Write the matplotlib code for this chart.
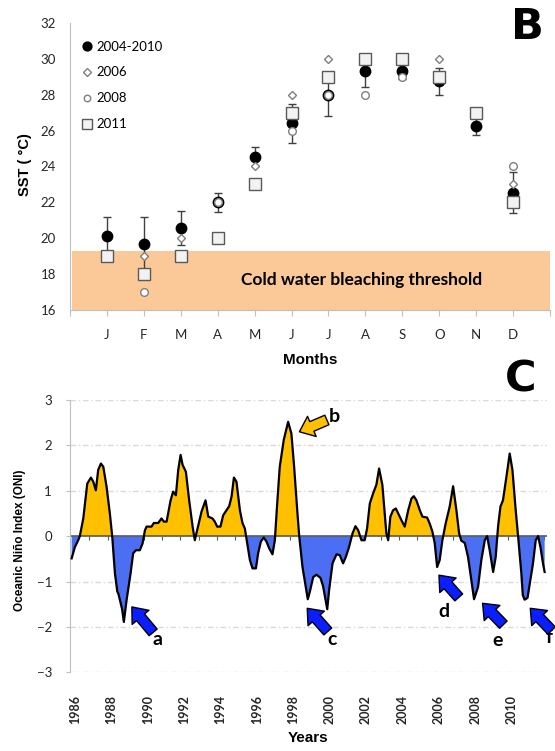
import numpy as np
import matplotlib
matplotlib.use("Agg")
import matplotlib.pyplot as plt
from matplotlib.patches import FancyArrowPatch

nan = np.nan

# panel B: monthly SST
months = ['J', 'F', 'M', 'A', 'M', 'J', 'J', 'A', 'S', 'O', 'N', 'D']
sst_mean = [20.1, 19.7, 20.55, 22.0, 24.55, 26.4, 28.0, 29.3, 29.3, 28.75, 26.25, 22.55]
sst_err = [1.1, 1.5, 0.95, 0.55, 0.55, 1.1, 1.2, 0.85, 0.4, 0.75, 0.5, 1.13]
sst_2006 = [nan, 19, 20, 22, 24, 28, 30, nan, nan, 30, nan, 23]
sst_2008 = [nan, 17, nan, 22, nan, 26, 28, 28, 29, nan, nan, 24]
sst_2011 = [19, 18, 19, 20, 23, 27, 29, 30, 30, 29, 27, 22]
threshold = 19.3

# panel C: ONI (decimal year, index)
oni_year = [1985.82, 1986.0, 1986.18, 1986.27, 1986.46, 1986.68, 1986.88, 1987.01, 1987.15,
            1987.28, 1987.43, 1987.56, 1987.74, 1987.92, 1988.05, 1988.2, 1988.33, 1988.39,
            1988.59, 1988.69, 1988.84, 1989.06, 1989.2, 1989.35, 1989.57, 1989.72, 1989.85,
            1989.94, 1990.21, 1990.34, 1990.58, 1990.76, 1990.89, 1991.04, 1991.26, 1991.4,
            1991.55, 1991.68, 1991.81, 1991.92, 1992.1, 1992.28, 1992.47, 1992.59, 1992.72,
            1992.96, 1993.18, 1993.33, 1993.56, 1993.69, 1993.82, 1994.0, 1994.15, 1994.33,
            1994.48, 1994.61, 1994.74, 1994.88, 1995.07, 1995.21, 1995.34, 1995.47, 1995.62,
            1995.76, 1995.95, 1996.07, 1996.22, 1996.38, 1996.53, 1996.68, 1996.86, 1996.99,
            1997.12, 1997.26, 1997.48, 1997.72, 1997.9, 1998.05, 1998.22, 1998.33, 1998.51,
            1998.69, 1998.8, 1998.91, 1999.1, 1999.28, 1999.5, 1999.64, 1999.87, 1999.97,
            2000.16, 2000.38, 2000.56, 2000.74, 2000.89, 2001.07, 2001.26, 2001.42, 2001.57,
            2001.75, 2001.93, 2002.06, 2002.21, 2002.39, 2002.57, 2002.72, 2002.9, 2003.03,
            2003.12, 2003.22, 2003.34, 2003.49, 2003.64, 2003.77, 2003.95, 2004.13, 2004.32,
            2004.5, 2004.63, 2004.77, 2004.96, 2005.1, 2005.36, 2005.5, 2005.65, 2005.78,
            2005.91, 2006.05, 2006.2, 2006.38, 2006.6, 2006.79, 2006.97, 2007.12, 2007.24,
            2007.43, 2007.61, 2007.79, 2007.94, 2008.16, 2008.34, 2008.53, 2008.66, 2008.8,
            2008.99, 2009.13, 2009.26, 2009.39, 2009.53, 2009.72, 2009.9, 2010.05, 2010.23,
            2010.36, 2010.54, 2010.62, 2010.72, 2010.88, 2011.0, 2011.18, 2011.33, 2011.46,
            2011.59, 2011.73, 2011.82]
oni_value = [-0.49, -0.24, -0.09, 0.0, 0.39, 1.16, 1.29, 1.2, 1.01,
             1.46, 1.6, 1.53, 1.09, 0.5, 0.0, -0.82, -1.22, -1.27,
             -1.6, -1.89, -1.41, -0.82, -0.38, -0.31, -0.31, -0.16, 0.13,
             0.21, 0.21, 0.29, 0.29, 0.39, 0.32, 0.32, 0.79, 0.98,
             0.9, 1.46, 1.79, 1.57, 1.42, 0.79, 0.21, -0.09, 0.13,
             0.54, 0.79, 0.43, 0.39, 0.32, 0.21, 0.21, 0.46, 0.57,
             0.66, 0.87, 1.29, 1.2, 0.57, 0.29, 0.17, -0.16, -0.53,
             -0.71, -0.71, -0.38, -0.12, -0.03, -0.12, -0.27, -0.4, -0.09,
             0.72, 1.53, 2.12, 2.52, 2.26, 1.53, 0.57, 0.0, -0.68,
             -1.12, -1.39, -1.23, -0.9, -0.85, -0.92, -1.1, -1.61, -1.2,
             -0.6, -0.4, -0.42, -0.6, -0.46, -0.24, 0.06, 0.22, 0.13,
             -0.09, -0.09, 0.17, 0.72, 0.94, 1.13, 1.49, 1.13, 0.5,
             0.06, -0.09, 0.43, 0.57, 0.61, 0.5, 0.35, 0.21, 0.57,
             0.83, 0.88, 0.79, 0.57, 0.43, 0.41, 0.28, 0.1, -0.16,
             -0.68, -0.53, -0.09, 0.28, 0.65, 1.1, 0.57, 0.06, -0.1,
             -0.15, -0.46, -0.97, -1.39, -1.12, -0.53, -0.09, 0.0, -0.31,
             -0.79, -0.46, 0.21, 0.65, 0.79, 1.31, 1.82, 1.46, 0.57,
             0.0, -0.82, -1.3, -1.4, -1.36, -1.05, -0.6, -0.09, 0.0,
             -0.24, -0.6, -0.79]
year_labels = list(range(1986, 2011, 2))

# arrows: label, tip, tail, text position, colour
events = [('a', (1989.13, -1.56), (1990.3, -2.12), (1990.55, -2.27), '#0a1eff'),
          ('b', (1998.34, 2.3), (1999.85, 2.56), (2000.25, 2.63), '#ffc000'),
          ('c', (1998.77, -1.59), (1999.9, -2.1), (2000.15, -2.27), '#0a1eff'),
          ('d', (2006.01, -0.86), (2007.1, -1.35), (2006.3, -1.65), '#0a1eff'),
          ('e', (2008.41, -1.48), (2009.55, -1.95), (2009.25, -2.3), '#0a1eff'),
          ('f', (2011.03, -1.59), (2012.2, -2.08), (2012.05, -2.24), '#0a1eff')]

W, H = 555, 751
fig = plt.figure(figsize=(W / 100, H / 100), dpi=100)
tcol = '#262626'

# ---------------- panel B
axB = fig.add_axes([70 / W, 1 - 310 / H, 480 / W, 287 / H])
x = np.arange(1, 13)
axB.axhspan(16, threshold, xmin=0.004, xmax=1, color='#fbc898', zorder=0, lw=0)
axB.text(7.9, 17.65, 'Cold water bleaching threshold', ha='center', va='center',
         family='Lato', weight='bold', fontsize=12.5, color='black')
axB.errorbar(x, sst_mean, yerr=sst_err, fmt='none', ecolor='#404040', elinewidth=1,
             capsize=3, capthick=1, zorder=2)
axB.plot(x, sst_mean, 'o', ms=7.5, mfc='black', mec='black', label='2004-2010', zorder=3)
axB.plot(x, sst_2006, 'D', ms=4.5, mfc='white', mec='#7f7f7f', mew=1, label='2006', zorder=4)
axB.plot(x, sst_2008, 'o', ms=5.5, mfc='white', mec='#7f7f7f', mew=1, label='2008', zorder=5)
axB.plot(x, sst_2011, 's', ms=8, mfc='#f2f2f2', mec='#595959', mew=1, label='2011', zorder=6)
axB.set_xlim(0, 13)
axB.set_ylim(16, 32)
axB.set_yticks(range(16, 33, 2))
axB.set_xticks(range(0, 14))
axB.set_xticklabels([''] + months + [''])
for s in ['top', 'right']:
    axB.spines[s].set_visible(False)
for s in ['left', 'bottom']:
    axB.spines[s].set_color('#bfbfbf')
axB.tick_params(axis='y', length=0, pad=10, labelcolor=tcol, labelsize=9.5)
axB.tick_params(axis='x', length=4, color='#bfbfbf', pad=10, labelcolor=tcol, labelsize=9.5)
for lab in axB.get_xticklabels() + axB.get_yticklabels():
    lab.set_family('Lato')
leg = axB.legend(loc='upper left', bbox_to_anchor=(0.0, 0.98), frameon=False,
                 handlelength=0.8, handletextpad=0.3, labelspacing=1.05,
                 prop=dict(family='Lato', size=9.5), markerscale=0.85)
axB.set_xlabel('Months', family='Liberation Sans', weight='bold', fontsize=11, labelpad=8)
fig.text(25 / W, 1 - 165 / H, 'SST ( °C)', rotation=90, ha='center', va='center',
         family='Liberation Sans', weight='bold', fontsize=10.5)
fig.text(527 / W, 1 - 27 / H, 'B', ha='center', va='center', family='DejaVu Sans',
         weight='bold', fontsize=31)

# ---------------- panel C
axC = fig.add_axes([70 / W, 1 - 672.3 / H, 477 / W, 272.3 / H])
yr = np.array(oni_year)
v = np.array(oni_value)
axC.fill_between(yr, v, 0, where=v >= 0, interpolate=True, color='#ffc000', lw=0, zorder=1)
axC.fill_between(yr, v, 0, where=v <= 0, interpolate=True, color='#4b6ef2', lw=0, zorder=1)
axC.plot(yr, v, color='black', lw=1.6, zorder=3, solid_joinstyle='round')
axC.axhline(0, color='#595959', lw=1.2, zorder=2)
for g in [-3, -2, -1, 1, 2, 3]:
    axC.axhline(g, color='#d9d9d9', lw=1, ls=(0, (4, 2, 1, 2)), zorder=0)
axC.set_xlim(1985.73, 2011.95)
axC.set_ylim(-3, 3)
axC.set_yticks(range(-3, 4))
axC.set_xticks(year_labels)
axC.set_xticklabels([str(y) for y in year_labels], rotation=90, family='Lato',
                    weight='bold', fontsize=9)
for s in ['top', 'right', 'bottom']:
    axC.spines[s].set_visible(False)
axC.spines['left'].set_color('#bfbfbf')
axC.tick_params(axis='x', length=0, pad=16, labelcolor=tcol)
axC.tick_params(axis='y', length=3, color='#bfbfbf', pad=10, labelcolor=tcol, labelsize=9.5)
for lab in axC.get_yticklabels():
    lab.set_family('Lato')
sec = axC.secondary_xaxis(0.5)
sec.set_xticks(np.arange(1986, 2012) + 0.8)
sec.tick_params(axis='x', direction='out', length=3, color='#595959', labelbottom=False,
                labeltop=False, bottom=True, top=False)
sec.spines['bottom'].set_visible(False)
sec.spines['top'].set_visible(False)
axC.set_xlabel('Years', family='Liberation Sans', weight='bold', fontsize=11, labelpad=5)
fig.text(20 / W, 1 - 540 / H, 'Oceanic Niño Index (ONI)', rotation=90, ha='center',
         va='center', family='Liberation Sans', weight='bold', fontsize=8.5)
fig.text(521 / W, 1 - 379 / H, 'C', ha='center', va='center', family='DejaVu Sans',
         weight='bold', fontsize=31)

for lab, tip, tail, tpos, col in events:
    arr = FancyArrowPatch(posA=tail, posB=tip,
                          arrowstyle='simple,head_length=0.65,head_width=1.05,tail_width=0.5',
                          mutation_scale=15, fc=col, ec='black', lw=1, shrinkA=0, shrinkB=0,
                          transform=axC.transData, clip_on=False, zorder=5)
    axC.add_patch(arr)
    axC.text(tpos[0], tpos[1], lab, ha='center', va='center', fontsize=14,
             family='Lato', weight='bold', clip_on=False)

fig.savefig('out.png', dpi=100)
